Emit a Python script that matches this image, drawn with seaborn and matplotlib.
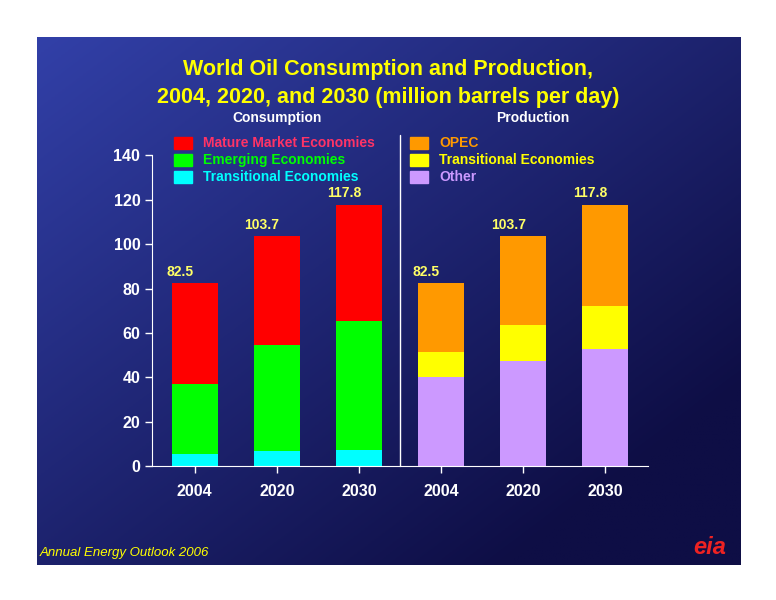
import matplotlib
matplotlib.use("Agg")
import matplotlib.pyplot as plt
import numpy as np
import pandas as pd
import seaborn as sns
from matplotlib.patches import Rectangle

years = ["2004", "2020", "2030"]
# consumption (million barrels per day)
cons_transitional = [5.5, 6.8, 7.5]
cons_emerging = [31.5, 47.7, 58.0]
cons_mature = [45.5, 49.2, 52.3]
# production
prod_other = [40.0, 47.5, 52.8]
prod_transitional = [11.5, 16.0, 19.2]
prod_opec = [31.0, 40.2, 45.8]
totals = [82.5, 103.7, 117.8]

sns.set_style("white")
plt.rcParams["font.family"] = ["Liberation Sans", "DejaVu Sans"]

fig = plt.figure(figsize=(7.76, 6.0), dpi=100)
fig.patch.set_facecolor("white")

# gradient panel
bg = fig.add_axes([0.048, 0.058, 0.906, 0.88])
gx, gy = np.meshgrid(np.linspace(0, 1, 200), np.linspace(0, 1, 200))
t = np.clip((gx * 0.6 + gy * 0.6), 0, 1)
c0 = np.array([0x32, 0x40, 0xa8]) / 255
c1 = np.array([0x0e, 0x0e, 0x45]) / 255
img = c0[None, None, :] * (1 - t[..., None]) + c1[None, None, :] * t[..., None]
bg.imshow(img, aspect="auto", extent=[0, 1, 0, 1])
bg.set_axis_off()

ax = fig.add_axes([0.196, 0.223, 0.639, 0.518])
ax.patch.set_alpha(0)

labels = ["C" + y for y in years] + ["P" + y for y in years]
c1s = np.array(cons_transitional)
c2s = c1s + np.array(cons_emerging)
c3s = c2s + np.array(cons_mature)
p1s = np.array(prod_other)
p2s = p1s + np.array(prod_transitional)
p3s = p2s + np.array(prod_opec)

layers = [
    (list(c3s) + list(p3s), ["#ff0000"] * 3 + ["#ff9900"] * 3),
    (list(c2s) + list(p2s), ["#00ff00"] * 3 + ["#ffff00"] * 3),
    (list(c1s) + list(p1s), ["#00ffff"] * 3 + ["#cc99ff"] * 3),
]
for vals, cols in layers:
    df = pd.DataFrame({"bar": labels, "value": vals})
    sns.barplot(data=df, x="bar", y="value", order=labels, hue="bar",
                palette=dict(zip(labels, cols)), legend=False,
                width=0.56, saturation=1, linewidth=0, ax=ax)

for i, tot in enumerate(totals * 2):
    ax.text(i - 0.18, tot + 2, f"{tot}", color="#ffff66", fontsize=10,
            fontweight="bold", ha="center", va="bottom")

ax.plot([2.5, 2.5], [0, 149], color="white", lw=1, clip_on=False)

ax.set_xlim(-0.52, 5.52)
ax.set_ylim(0, 140)
ax.set_xticks(range(6))
ax.set_xticklabels(years * 2)
ax.set_yticks(range(0, 141, 20))
ax.tick_params(colors="white", labelsize=11.5, length=5, width=1, direction="out",
               bottom=True, left=True)
for lab in ax.get_xticklabels() + ax.get_yticklabels():
    lab.set_fontweight("bold")
    lab.set_color("white")
ax.tick_params(axis="x", pad=8)
ax.set_xlabel("")
ax.set_ylabel("")
for s in ["top", "right"]:
    ax.spines[s].set_visible(False)
for s in ["left", "bottom"]:
    ax.spines[s].set_color("white")

fig.text(0.5, 0.885, "World Oil Consumption and Production,", color="#ffff00",
         fontsize=15.5, fontweight="bold", ha="center", va="center")
fig.text(0.5, 0.838, "2004, 2020, and 2030 (million barrels per day)", color="#ffff00",
         fontsize=15.5, fontweight="bold", ha="center", va="center")
fig.text(0.357, 0.803, "Consumption", color="white", fontsize=10, fontweight="bold",
         ha="center", va="center")
fig.text(0.686, 0.803, "Production", color="white", fontsize=10, fontweight="bold",
         ha="center", va="center")

def legend_item(x, y, color, text, tcolor):
    fig.patches.append(Rectangle((x / 776, 1 - (y + 6) / 600), 18 / 776, 12 / 600,
                                 transform=fig.transFigure, color=color))
    fig.text((x + 29) / 776, 1 - y / 600, text, color=tcolor, fontsize=10,
             fontweight="bold", va="center")

legend_item(174, 143, "#ff0000", "Mature Market Economies", "#ff3366")
legend_item(174, 160, "#00ff00", "Emerging Economies", "#00ff00")
legend_item(174, 177, "#00ffff", "Transitional Economies", "#00ffff")
legend_item(410, 143, "#ff9900", "OPEC", "#ff9900")
legend_item(410, 160, "#ffff00", "Transitional Economies", "#ffff00")
legend_item(410, 177, "#cc99ff", "Other", "#cc99ff")

fig.text(40 / 776, 1 - 553 / 600, "Annual Energy Outlook 2006", color="#ffff00",
         fontsize=9.5, style="italic", va="center")
fig.text(710 / 776, 1 - 548 / 600, "eia", color="#ee2222", fontsize=17,
         fontweight="bold", style="italic", ha="center", va="center")

fig.savefig("out.png", dpi=100)
